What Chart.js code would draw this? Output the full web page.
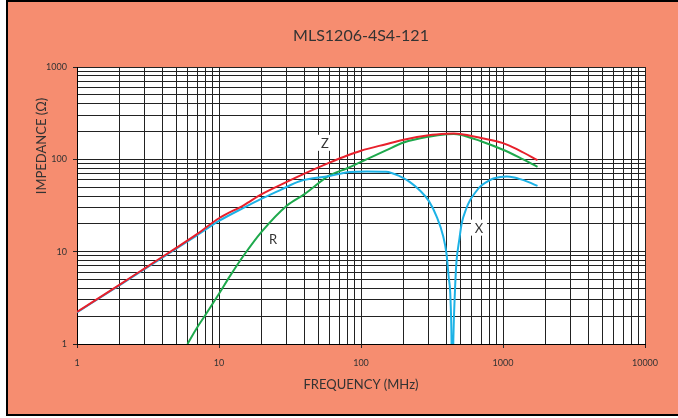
<!DOCTYPE html>
<html>
<head>
<meta charset="utf-8">
<script src="https://cdn.jsdelivr.net/npm/chart.js@4"></script>
<style>
  body { margin: 0; background: #fff; }
  #frame {
    position: absolute; left: 6px; top: 0; width: 672px; height: 416px;
    box-sizing: border-box; background: #f68d70;
    border-left: 2px solid #000; border-top: 2px solid #000; border-bottom: 2px solid #000;
  }
  #chart { position: absolute; left: 0; top: 0; }
</style>
</head>
<body>
<div id="frame"></div>
<canvas id="chart" width="678" height="418"></canvas>
<script>
// curve data (MHz / ohm)
const freqZ = [1, 2, 3, 5, 7, 10, 15, 20, 30, 40, 60, 80, 100, 150, 200, 300, 400, 450, 500, 700, 1000, 1300, 1750];
const valZ  = [2.22, 4.4, 6.6, 11, 15.5, 23, 32, 42, 57, 70, 92, 110, 124, 146, 163, 182, 189, 190, 188, 170, 150, 125, 98];

const freqR = [6, 7, 8, 10, 12, 15, 20, 30, 40, 60, 80, 100, 150, 200, 300, 400, 450, 500, 700, 1000, 1300, 1750];
const valR  = [1, 1.5, 2.05, 3.5, 5.5, 9.2, 16.5, 31.5, 42, 67, 80, 94, 125, 152, 176, 187, 188, 185, 157, 127, 105, 83];

const freqX = [1, 2, 3, 5, 7, 10, 15, 20, 27, 37, 60, 84, 110, 150, 190, 220, 260, 300, 341, 380, 400, 415, 425, 433, 440,
               447, 459, 470, 492, 512, 550, 586, 640, 690, 770, 855, 960, 1060, 1200, 1320, 1500, 1750];
const valX  = [2.2, 4.35, 6.5, 10.8, 15, 21.5, 30, 37.5, 46.5, 58, 66, 73, 74, 73.5, 65, 57, 46, 35.5, 24, 14.5, 9.5, 5.2, 3.6, 1.4, 0.2,
               1.1, 3.8, 7.7, 13.4, 20.3, 29, 36, 44, 50.6, 57, 62, 64.5, 65, 63.5, 61, 57, 51.5];

const xTickLabels = [1, 10, 100, 1000, 10000];
const yTickLabels = [1, 10, 100, 1000];

// text labels next to the curves
const curveNames = ['Z', 'R', 'X'];
const nameFreq = [55.8, 24, 677];
const nameVal = [151, 13.8, 18.2];

const textColor = '#333';

function toPoints(fs, vs) {
    return fs.map((f, i) => ({ x: f, y: vs[i] }));
}

// 1..9 in every decade for the grid
function decadeTicks(labels) {
    let out = [];
    for (let i = 0; i < labels.length; i++) {
        if (i === labels.length - 1) { out.push(labels[i]); break; }
        for (let k = 1; k < 10; k++) out.push(k * labels[i]);
    }
    return out.map(v => ({ value: v }));
}

const extras = {
    id: 'extras',
    beforeDraw(chart) {
        const { ctx, chartArea: a } = chart;
        ctx.save();
        ctx.fillStyle = '#fff';
        ctx.fillRect(a.left, a.top, a.width, a.height);
        ctx.restore();
    },
    afterDatasetsDraw(chart) {
        const { ctx, scales } = chart;
        ctx.save();
        ctx.font = '13px Lato';
        ctx.textAlign = 'center';
        ctx.textBaseline = 'middle';
        curveNames.forEach((t, i) => {
            let px = scales.x.getPixelForValue(nameFreq[i]);
            let py = scales.y.getPixelForValue(nameVal[i]);
            ctx.fillStyle = '#fff';
            ctx.fillRect(px - 8, py - 8, 16, 16);
            ctx.fillStyle = textColor;
            ctx.fillText(t, px, py + 1);
        });
        ctx.restore();
    },
    afterDraw(chart) {
        const { ctx } = chart;
        ctx.save();
        ctx.translate(42, 146);
        ctx.rotate(-Math.PI / 2);
        ctx.font = '13px Lato';
        ctx.fillStyle = textColor;
        ctx.textAlign = 'center';
        ctx.textBaseline = 'middle';
        ctx.fillText('IMPEDANCE (Ω)', 0, 0);
        ctx.restore();
    }
};

function gridOpts(labels) {
    return {
        color: '#222',
        lineWidth: 1,
        tickLength: 4,
        tickColor: c => (c.tick && labels.includes(c.tick.value)) ? '#222' : 'rgba(0,0,0,0)'
    };
}

const ctx = document.getElementById('chart').getContext('2d');
new Chart(ctx, {
    type: 'line',
    data: {
        datasets: [
            { label: 'Z', data: toPoints(freqZ, valZ), borderColor: '#e8202b', order: 0 },
            { label: 'X', data: toPoints(freqX, valX), borderColor: '#1cb2e6', order: 1 },
            { label: 'R', data: toPoints(freqR, valR), borderColor: '#1ea94c', order: 2 }
        ]
    },
    options: {
        responsive: false,
        animation: false,
        layout: { padding: { left: 0, right: 33, top: 0, bottom: 0 } },
        elements: {
            point: { radius: 0 },
            line: { borderWidth: 2, cubicInterpolationMode: 'monotone', fill: false }
        },
        plugins: {
            legend: { display: false },
            tooltip: { enabled: false },
            title: {
                display: true,
                text: 'MLS1206-4S4-121',
                fullSize: false,
                color: textColor,
                font: { family: 'Lato', size: 16, weight: 'normal' },
                padding: { top: 26, bottom: 21.8 }
            }
        },
        scales: {
            x: {
                type: 'logarithmic',
                min: 1, max: 10000,
                afterBuildTicks: s => { s.ticks = decadeTicks(xTickLabels); },
                afterFit: s => { s.height = 74; },
                ticks: {
                    autoSkip: false, maxRotation: 0, padding: 10,
                    color: textColor, font: { family: 'Lato', size: 9 },
                    callback: v => xTickLabels.includes(v) ? String(v) : ''
                },
                grid: gridOpts(xTickLabels),
                border: { color: '#000', width: 1 },
                title: {
                    display: true, text: 'FREQUENCY (MHz)', color: textColor,
                    font: { family: 'Lato', size: 13 },
                    padding: { top: 0, bottom: 25 }
                }
            },
            y: {
                type: 'logarithmic',
                min: 1, max: 1000,
                afterBuildTicks: s => { s.ticks = decadeTicks(yTickLabels); },
                afterFit: s => { s.width = 77; },
                ticks: {
                    autoSkip: false, padding: 6,
                    color: textColor, font: { family: 'Lato', size: 9 },
                    callback: v => yTickLabels.includes(v) ? String(v) : ''
                },
                grid: gridOpts(yTickLabels),
                border: { color: '#000', width: 1 }
            }
        }
    },
    plugins: [extras]
});
</script>
</body>
</html>
